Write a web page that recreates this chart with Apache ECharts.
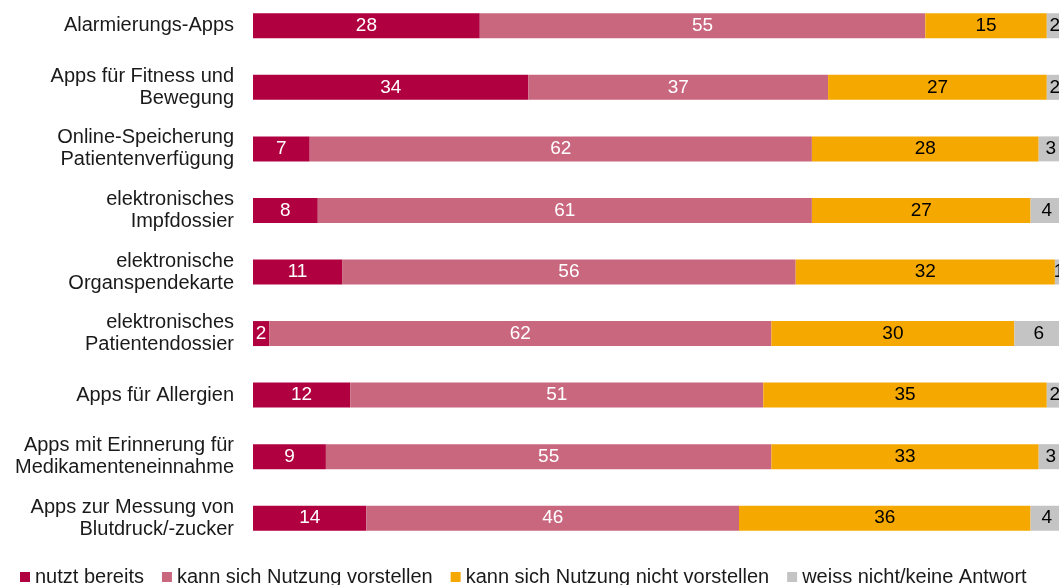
<!DOCTYPE html>
<html>
<head>
<meta charset="utf-8">
<script src="https://cdn.jsdelivr.net/npm/echarts@6/dist/echarts.min.js"></script>
<style>
  html, body { margin: 0; padding: 0; background: #fff; }
  #main { width: 1059px; height: 585px; }
</style>
</head>
<body>
<div id="main"></div>
<script>
var categories = [
    'Alarmierungs-Apps',
    'Apps für Fitness und\nBewegung',
    'Online-Speicherung\nPatientenverfügung',
    'elektronisches\nImpfdossier',
    'elektronische\nOrganspendekarte',
    'elektronisches\nPatientendossier',
    'Apps für Allergien',
    'Apps mit Erinnerung für\nMedikamenteneinnahme',
    'Apps zur Messung von\nBlutdruck/-zucker'
];
var seriesNames = ['nutzt bereits', 'kann sich Nutzung vorstellen', 'kann sich Nutzung nicht vorstellen', 'weiss nicht/keine Antwort'];
var nutztBereits = [28, 34, 7, 8, 11, 2, 12, 9, 14];
var kannVorstellen = [55, 37, 62, 61, 56, 62, 51, 55, 46];
var nichtVorstellen = [15, 27, 28, 27, 32, 30, 35, 33, 36];
var weissNicht = [2, 2, 3, 4, 1, 6, 2, 3, 4];

var colors = ['#B0003F', '#C9677F', '#F5A800', '#C4C4C4'];
var labelColors = ['#ffffff', '#ffffff', '#000000', '#000000'];

var myChart = echarts.init(document.getElementById('main'));

function makeSeries(i, data) {
    return {
        name: seriesNames[i],
        type: 'bar',
        stack: 'total',
        barWidth: 25,
        data: data,
        itemStyle: {color: colors[i]},
        label: {
            show: true,
            position: 'inside',
            color: labelColors[i],
            fontSize: 19,
            fontFamily: 'Liberation Sans'
        },
        emphasis: {disabled: true}
    };
}

var option = {
    animation: false,
    textStyle: {fontFamily: 'Liberation Sans'},
    grid: {
        left: 253,
        width: 810,
        top: -5,
        height: 554,
        outerBoundsMode: 'none',
        containLabel: false
    },
    legend: {
        data: seriesNames,
        left: 15,
        top: 562,
        icon: 'rect',
        itemWidth: 10,
        itemHeight: 10,
        itemGap: 18,
        textStyle: {fontSize: 20, color: '#1a1a1a', fontFamily: 'Liberation Sans'}
    },
    xAxis: {
        type: 'value',
        min: 0,
        max: 100,
        show: false
    },
    yAxis: {
        type: 'category',
        inverse: true,
        data: categories,
        axisLine: {show: false},
        axisTick: {show: false},
        axisLabel: {
            fontSize: 20,
            lineHeight: 22,
            color: '#1a1a1a',
            margin: 19,
            fontFamily: 'Liberation Sans'
        }
    },
    series: [
        makeSeries(0, nutztBereits),
        makeSeries(1, kannVorstellen),
        makeSeries(2, nichtVorstellen),
        makeSeries(3, weissNicht)
    ]
};
myChart.setOption(option);
</script>
</body>
</html>
